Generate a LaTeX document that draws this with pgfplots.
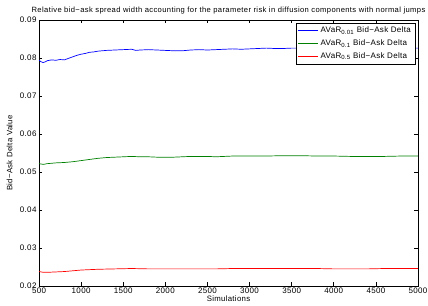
\documentclass[border=0pt]{standalone}
\usepackage{fontspec}
\setmainfont{Liberation Sans}[LetterSpace=4]
\newfontfamily\titlefont{Liberation Sans}[LetterSpace=5]
\usepackage{pgfplots}
\pgfplotsset{compat=1.18}
\definecolor{mblue}{RGB}{0,0,255}
\definecolor{mgreen}{RGB}{0,128,0}
\definecolor{mred}{RGB}{255,0,0}
\begin{document}
\begin{tikzpicture}[x=1pt,y=1pt]
\begin{axis}[
  scale only axis,
  width=379pt, height=266pt,
  xmin=500, xmax=5000, ymin=0.02, ymax=0.09,
  xtick={500,1000,...,5000},
  ytick={0.02,0.03,...,0.09},
  scaled y ticks=false,
  tick align=inside,
  major tick length=3.5pt,
  xtick pos=both, ytick pos=both,
  axis line style={line width=0.9pt},
  tick style={line width=0.7pt, black},
  every tick label/.append style={font=\fontsize{8}{8}\selectfont},
  /pgf/number format/assume math mode=true,
  x tick label style={/pgf/number format/1000 sep={}, yshift=1.5pt},
  y tick label style={/pgf/number format/fixed, /pgf/number format/fixed zerofill, /pgf/number format/precision=2, xshift=1pt},
  xlabel={Simulations},
  ylabel={Bid−Ask Delta Value},
  label style={font=\fontsize{7.8}{8}\selectfont},
  xlabel style={yshift=4.5pt},
  ylabel style={yshift=0.5pt},
  title={Relative bid−ask spread width accounting for the parameter risk in diffusion components with normal jumps},
  title style={font=\titlefont\fontsize{7.6}{8}\selectfont, yshift=-4pt, xshift=0pt},
  legend style={at={(0.992,0.989)}, anchor=north east, font=\fontsize{8}{8}\selectfont,
    inner sep=2pt, row sep=1.5pt, nodes={inner sep=2pt}},
  legend cell align=left,
  legend image code/.code={\draw[#1, line width=0.9pt] (0pt,0pt) -- (20pt,0pt);},
]
\addplot[mblue, line width=0.7pt] coordinates {
(500,0.0794)(525,0.0790)(550,0.0788)(575,0.0790)(600,0.0793)(650,0.0795)(700,0.0794)
(750,0.0796)(800,0.0795)(850,0.0799)(900,0.0803)(950,0.0807)(1000,0.0810)(1050,0.0812)
(1100,0.0815)(1150,0.0816)(1200,0.0818)(1300,0.0820)(1400,0.0821)(1500,0.0822)
(1600,0.0823)(1650,0.0820)(1700,0.0821)(1800,0.0822)(1900,0.0821)(2000,0.0820)
(2100,0.0819)(2200,0.0819)(2300,0.0821)(2400,0.0822)(2500,0.0821)(2600,0.0822)
(2700,0.0823)(2800,0.0824)(2900,0.0823)(3000,0.0824)(3100,0.0825)(3200,0.0826)
(3300,0.0825)(3400,0.0825)(3500,0.0826)(3700,0.0826)(3900,0.0825)(4100,0.0826)
(4300,0.0826)(4500,0.0825)(4700,0.0826)(4900,0.0826)(5000,0.0826)
};
\addlegendentry{AVaR\textsubscript{0.01} Bid−Ask Delta}
\addplot[mgreen, line width=0.7pt] coordinates {
(500,0.0522)(550,0.0520)(600,0.0522)(700,0.0524)(800,0.0525)(900,0.0527)(1000,0.0530)
(1100,0.0533)(1200,0.0536)(1300,0.0538)(1400,0.0539)(1500,0.0540)(1600,0.0541)
(1700,0.0540)(1800,0.0540)(1900,0.0539)(2000,0.0539)(2100,0.0539)(2200,0.0540)
(2300,0.0541)(2400,0.0541)(2500,0.0541)(2600,0.0540)(2700,0.0541)(2800,0.0542)
(2900,0.0542)(3000,0.0542)(3200,0.0542)(3400,0.0543)(3600,0.0543)(3800,0.0542)
(4000,0.0542)(4200,0.0541)(4400,0.0541)(4600,0.0541)(4800,0.0542)(5000,0.0542)
};
\addlegendentry{AVaR\textsubscript{0.1} Bid−Ask Delta}
\addplot[mred, line width=0.7pt] coordinates {
(500,0.0238)(550,0.0236)(600,0.0236)(700,0.0237)(800,0.0238)(900,0.0240)(1000,0.0242)
(1100,0.0243)(1200,0.0244)(1400,0.0245)(1600,0.0246)(1800,0.0245)(2000,0.0245)
(2200,0.0245)(2400,0.0245)(2600,0.0245)(2800,0.0246)(3000,0.0246)(3200,0.0246)
(3400,0.0246)(3600,0.0246)(3800,0.0246)(4000,0.0245)(4200,0.0245)(4400,0.0245)
(4600,0.0246)(4800,0.0246)(5000,0.0246)
};
\addlegendentry{AVaR\textsubscript{0.5} Bid−Ask Delta}
\end{axis}
\pgfresetboundingbox
\useasboundingbox ([shift={(-39pt,-20pt)}]current axis.south west) rectangle ([shift={(10pt,20pt)}]current axis.north east);
\end{tikzpicture}
\end{document}
